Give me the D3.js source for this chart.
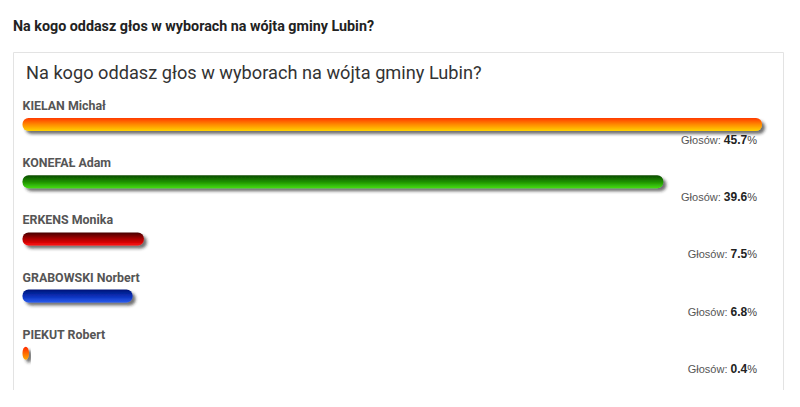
<!DOCTYPE html>
<html>
<head>
<meta charset="utf-8">
<script src="https://cdn.jsdelivr.net/npm/d3@7/dist/d3.min.js"></script>
<style>
  html, body { margin: 0; padding: 0; background: #fff; }
  svg { display: block; }
</style>
</head>
<body>
<script>
const pageTitle = "Na kogo oddasz głos w wyborach na wójta gminy Lubin?";
const chartTitle = "Na kogo oddasz głos w wyborach na wójta gminy Lubin?";
const candidates = ["KIELAN Michał", "KONEFAŁ Adam", "ERKENS Monika", "GRABOWSKI Norbert", "PIEKUT Robert"];
const votes = [45.7, 39.6, 7.5, 6.8, 0.4];
const valuePrefix = "Głosów: ";

const gradientStops = [
  ["#ff3a00", "#ff8a00", "#ffd200"],
  ["#0a4a00", "#1f8f00", "#44dd11"],
  ["#440000", "#aa0000", "#ff0a0a"],
  ["#001577", "#0a2fb8", "#2a5cf0"],
  ["#ff2a00", "#ff6a00", "#ffaa00"]
];

const W = 800, H = 407;
const svg = d3.select("body").append("svg").attr("width", W).attr("height", H);

const defs = svg.append("defs");
const filt = defs.append("filter").attr("id", "shadow")
  .attr("x", "-20%").attr("y", "-50%").attr("width", "140%").attr("height", "250%");
filt.append("feDropShadow").attr("dx", 3).attr("dy", 3).attr("stdDeviation", 1.4)
  .attr("flood-color", "#222").attr("flood-opacity", 0.65);

gradientStops.forEach((stops, i) => {
  const g = defs.append("linearGradient").attr("id", "grad" + i)
    .attr("x1", 0).attr("y1", 0).attr("x2", 0).attr("y2", 1);
  stops.forEach((c, j) => g.append("stop")
    .attr("offset", (j / (stops.length - 1) * 100) + "%").attr("stop-color", c));
});

// page title
svg.append("text").attr("x", 13).attr("y", 31)
  .attr("font-family", "Roboto, sans-serif").attr("font-weight", "bold")
  .attr("font-size", 14.3).attr("fill", "#222").text(pageTitle);

// box (no bottom edge visible)
svg.append("path").attr("d", "M13.5,390 V52.5 H783.5 V390")
  .attr("fill", "none").attr("stroke", "#e3e3e3").attr("stroke-width", 1);

// chart title
svg.append("text").attr("x", 26).attr("y", 79)
  .attr("font-family", "Roboto, sans-serif")
  .attr("font-size", 18.2).attr("fill", "#333").text(chartTitle);

const x = d3.scaleLinear().domain([0, d3.max(votes)]).range([0, 739.5]);
const y = d3.scaleBand().domain(candidates).range([96, 96 + 57.2 * candidates.length]).padding(0);

const rows = svg.selectAll("g.row").data(candidates.map((c, i) => ({ name: c, v: votes[i], i })))
  .enter().append("g").attr("class", "row")
  .attr("transform", d => `translate(0,${y(d.name)})`);

rows.append("text").attr("x", 22.5).attr("y", 14)
  .attr("font-family", "Roboto, sans-serif").attr("font-weight", "bold")
  .attr("font-size", 12.4).attr("fill", "#555").text(d => d.name);

rows.append("rect").attr("x", 22.5).attr("y", 22)
  .attr("width", d => Math.max(x(d.v), 5.5)).attr("height", 13)
  .attr("rx", 6).attr("ry", 6)
  .attr("fill", d => `url(#grad${d.i})`)
  .attr("filter", "url(#shadow)");

const lab = rows.append("text").attr("x", 757).attr("y", 48)
  .attr("text-anchor", "end")
  .attr("font-family", "'Liberation Sans', Arial, sans-serif")
  .attr("font-size", 11).attr("fill", "#555");
lab.append("tspan").text(valuePrefix);
lab.append("tspan").attr("font-weight", "bold").attr("font-size", 12).attr("fill", "#222")
  .text(d => d.v.toFixed(1));
lab.append("tspan").attr("fill", "#444").text("%");
</script>
</body>
</html>
